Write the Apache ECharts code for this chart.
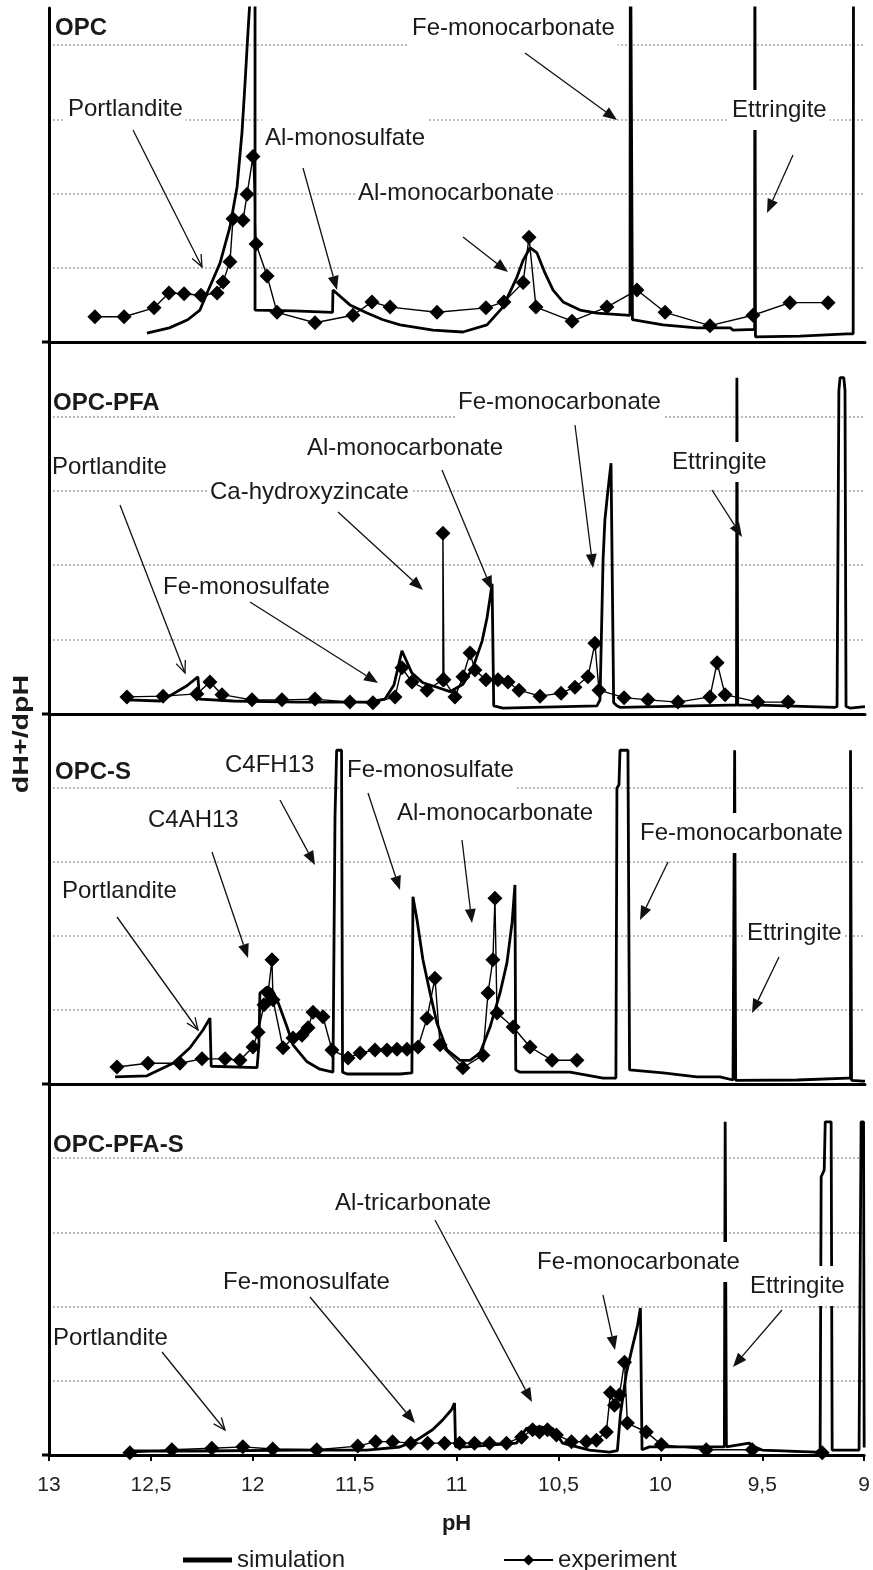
<!DOCTYPE html>
<html><head><meta charset="utf-8">
<script src="https://cdn.jsdelivr.net/npm/echarts@6/dist/echarts.min.js"></script>
<style>html,body{margin:0;padding:0;background:#fff}#c{width:873px;height:1570px}</style>
</head><body><div id="c"></div>
<script>
// ---------- DATA (pH, dH+/dpH) ----------
const panelNames = ['OPC', 'OPC-PFA', 'OPC-S', 'OPC-PFA-S'];
const yMax = [4.5, 5, 5, 5];

const simOPC = [[12.52,0.12],[12.41,0.19],[12.32,0.30],[12.26,0.43],[12.225,0.66],[12.162,1.06],[12.113,1.55],[12.078,2.09],[12.054,2.82],[12.039,3.49],[12.025,4.16],[12.015,4.6],[12.005,6],[11.99,6],[11.99,0.43],[11.80,0.42],[11.61,0.40],[11.608,0.70],[11.525,0.50],[11.441,0.39],[11.363,0.30],[11.279,0.23],[11.118,0.16],[10.971,0.135],[10.853,0.23],[10.775,0.47],[10.706,0.875],[10.676,1.10],[10.642,1.27],[10.608,1.20],[10.569,0.93],[10.529,0.70],[10.48,0.54],[10.397,0.43],[10.314,0.39],[10.152,0.36],[10.150,6],[10.142,6],[10.140,0.30],[9.99,0.23],[9.824,0.19],[9.66,0.19],[9.647,0.16],[9.541,0.17],[9.540,6],[9.538,6],[9.537,0.07],[9.319,0.08],[9.088,0.11],[9.058,0.11],[9.056,6],[9.0,6]];
const expOPC = [[12.775,0.34],[12.632,0.34],[12.485,0.46],[12.412,0.66],[12.338,0.65],[12.255,0.63],[12.176,0.66],[12.147,0.81],[12.113,1.08],[12.098,1.66],[12.049,1.64],[12.029,1.99],[12.0,2.5],[11.985,1.32],[11.931,0.89],[11.882,0.40],[11.696,0.26],[11.51,0.36],[11.417,0.54],[11.328,0.47],[11.098,0.40],[10.858,0.46],[10.77,0.54],[10.676,0.80],[10.647,1.41],[10.613,0.47],[10.436,0.28],[10.265,0.47],[10.118,0.70],[9.98,0.40],[9.76,0.22],[9.549,0.36],[9.368,0.53],[9.181,0.53]];

const simPFA = [[12.618,0.19],[12.456,0.175],[12.392,0.27],[12.324,0.38],[12.27,0.50],[12.262,0.20],[12.098,0.175],[11.77,0.16],[11.441,0.16],[11.353,0.20],[11.309,0.39],[11.27,0.85],[11.221,0.55],[11.167,0.42],[11.098,0.36],[11.034,0.30],[10.971,0.40],[10.922,0.62],[10.877,0.98],[10.853,1.29],[10.838,1.56],[10.828,1.75],[10.822,1.75],[10.820,0.11],[10.775,0.08],[10.314,0.11],[10.299,0.19],[10.284,2.07],[10.275,2.61],[10.26,3.01],[10.245,3.37],[10.238,3.37],[10.232,0.15],[10.216,0.11],[10.201,0.09],[9.662,0.12],[9.630,0.12],[9.628,4.52],[9.626,4.52],[9.624,0.12],[9.515,0.12],[9.147,0.09],[9.137,0.10],[9.128,4.35],[9.122,4.52],[9.104,4.52],[9.098,4.35],[9.093,0.10],[9.074,0.08],[9.0,0.1]];
const expPFA = [[12.618,0.23],[12.441,0.24],[12.275,0.27],[12.211,0.43],[12.152,0.26],[12.005,0.19],[11.858,0.19],[11.696,0.20],[11.525,0.16],[11.412,0.15],[11.304,0.23],[11.27,0.62],[11.221,0.43],[11.147,0.32],[11.069,0.46],[11.069,2.43],[11.064,0.46],[11.01,0.23],[10.971,0.50],[10.936,0.82],[10.912,0.59],[10.858,0.46],[10.799,0.46],[10.75,0.43],[10.696,0.32],[10.593,0.24],[10.49,0.28],[10.422,0.36],[10.358,0.50],[10.324,0.95],[10.304,0.32],[10.181,0.22],[10.064,0.19],[9.917,0.16],[9.76,0.23],[9.725,0.69],[9.686,0.26],[9.525,0.16],[9.377,0.16]];

const simS = [[12.676,0.095],[12.52,0.11],[12.392,0.28],[12.309,0.49],[12.245,0.73],[12.211,0.89],[12.205,0.24],[11.98,0.22],[11.971,0.53],[11.966,1.23],[11.931,1.31],[11.907,1.27],[11.882,1.14],[11.833,0.77],[11.804,0.53],[11.735,0.30],[11.672,0.20],[11.608,0.16],[11.598,3.61],[11.590,4.51],[11.566,4.51],[11.561,0.16],[11.539,0.135],[11.279,0.135],[11.221,0.15],[11.216,2.53],[11.196,2.22],[11.167,1.68],[11.132,1.23],[11.098,0.82],[11.049,0.46],[10.985,0.32],[10.936,0.32],[10.887,0.42],[10.838,0.77],[10.789,1.23],[10.755,1.64],[10.73,2.18],[10.716,2.69],[10.712,0.19],[10.691,0.16],[10.446,0.16],[10.284,0.08],[10.221,0.08],[10.216,4.0],[10.206,4.04],[10.201,4.51],[10.162,4.51],[10.154,0.19],[9.99,0.15],[9.824,0.095],[9.711,0.095],[9.647,0.054],[9.639,0.05],[9.639,4.51],[9.634,4.51],[9.634,0.05],[9.333,0.054],[9.083,0.08],[9.071,0.08],[9.071,4.51],[9.066,4.51],[9.066,0.05],[9.01,0.04],[9.0,0.04]];
const expS = [[12.667,0.23],[12.515,0.28],[12.358,0.28],[12.25,0.34],[12.137,0.34],[12.064,0.32],[12.0,0.5],[11.975,0.70],[11.946,1.07],[11.926,1.23],[11.907,1.68],[11.902,1.14],[11.853,0.49],[11.804,0.62],[11.76,0.66],[11.73,0.76],[11.706,0.97],[11.657,0.91],[11.613,0.46],[11.534,0.35],[11.475,0.42],[11.402,0.46],[11.343,0.46],[11.294,0.47],[11.245,0.47],[11.191,0.5],[11.147,0.89],[11.108,1.43],[11.083,0.53],[10.971,0.22],[10.873,0.39],[10.848,1.23],[10.824,1.68],[10.814,2.51],[10.804,0.96],[10.725,0.77],[10.642,0.5],[10.534,0.32],[10.412,0.32]];

const simPFAS = [[12.603,0.054],[12.26,0.054],[11.77,0.067],[11.441,0.067],[11.279,0.108],[11.196,0.20],[11.118,0.34],[11.069,0.47],[11.025,0.61],[11.01,0.70],[11.005,0.11],[10.951,0.11],[10.706,0.16],[10.657,0.36],[10.593,0.38],[10.529,0.36],[10.48,0.16],[10.348,0.067],[10.25,0.04],[10.211,0.06],[10.196,0.55],[10.167,1.10],[10.137,1.46],[10.113,1.73],[10.098,1.98],[10.093,1.98],[10.090,0.07],[10.054,0.11],[9.99,0.11],[9.686,0.11],[9.682,4.49],[9.679,4.49],[9.676,0.11],[9.564,0.16],[9.539,0.11],[9.50,0.067],[9.235,0.04],[9.216,0.067],[9.211,3.75],[9.196,3.84],[9.191,4.49],[9.162,4.49],[9.157,0.067],[9.123,0.067],[9.025,0.067],[9.015,4.49],[9.003,4.49],[9.0,0.1]];
const expPFAS = [[12.603,0.03],[12.397,0.07],[12.201,0.09],[12.049,0.11],[11.902,0.08],[11.686,0.07],[11.485,0.12],[11.397,0.18],[11.314,0.18],[11.225,0.16],[11.142,0.16],[11.059,0.16],[10.985,0.16],[10.912,0.16],[10.838,0.16],[10.755,0.16],[10.681,0.24],[10.627,0.34],[10.593,0.31],[10.554,0.34],[10.51,0.27],[10.436,0.18],[10.363,0.18],[10.314,0.2],[10.265,0.31],[10.245,0.84],[10.225,0.67],[10.201,0.81],[10.176,1.25],[10.162,0.43],[10.069,0.31],[9.995,0.14],[9.775,0.07],[9.549,0.07],[9.206,0.03]];

const simSeries = [simOPC, simPFA, simS, simPFAS];
const expSeries = [expOPC, expPFA, expS, expPFAS];

// ---------- ANNOTATIONS (pixel layout) ----------
// [text, left x, center y, bold]
const labels = [
  ['OPC',55,28,1],['Portlandite',68,109],['Al-monosulfate',265,138],['Al-monocarbonate',358,193],['Fe-monocarbonate',412,28],['Ettringite',732,110],
  ['OPC-PFA',53,403,1],['Portlandite',52,467],['Ca-hydroxyzincate',210,492],['Al-monocarbonate',307,448],['Fe-monosulfate',163,587],['Fe-monocarbonate',458,402],['Ettringite',672,462],
  ['OPC-S',55,772,1],['C4FH13',225,765],['C4AH13',148,820],['Portlandite',62,891],['Fe-monosulfate',347,770],['Al-monocarbonate',397,813],['Fe-monocarbonate',640,833],['Ettringite',747,933],
  ['OPC-PFA-S',53,1145,1],['Al-tricarbonate',335,1203],['Fe-monosulfate',223,1282],['Portlandite',53,1338],['Fe-monocarbonate',537,1262],['Ettringite',750,1286]
];
// [x1,y1,x2,y2,openHead]
const arrows = [
  [133,130,202,267,1],[303,168,337,290,0],[463,237,508,272,0],[525,53,617,120,0],[793,155,767,213,0],
  [120,505,185,673,1],[338,512,423,590,0],[442,470,492,590,0],[250,602,378,683,0],[575,425,593,568,0],[712,490,742,537,0],
  [280,800,315,865,0],[212,852,248,958,0],[117,917,198,1030,1],[368,793,400,890,0],[462,840,472,923,0],[668,862,640,920,0],[779,957,752,1013,0],
  [435,1220,532,1402,0],[310,1297,415,1423,0],[162,1352,225,1430,1],[603,1295,615,1350,0],[782,1310,733,1367,0]
];

const FONT = '"Liberation Sans", Arial, sans-serif';
const gridBoxes = [[8,334],[342,372],[714,370],[1084,371]];

const ctx = document.createElement('canvas').getContext('2d');
const graphics = [];
labels.forEach(([t,x,y,b]) => {
  const font = (b ? 'bold ' : '') + '24px ' + FONT;
  ctx.font = font;
  const w = ctx.measureText(t).width;
  const rx = Math.max(x - 3, 52);
  if (!b) graphics.push({type:'rect', z:100, shape:{x:rx, y:y-20, width:x+w+3-rx, height:40}, style:{fill:'#fff'}});
  graphics.push({type:'text', z:102, x:x, y:y, style:{text:t, font:font, fill:'#1a1a1a', align:'left', verticalAlign:'middle', textAlign:'left', textVerticalAlign:'middle'}});
});
arrows.forEach(([x1,y1,x2,y2,open]) => {
  const a = Math.atan2(y2-y1, x2-x1);
  const L = open ? 12 : 14, W = open ? 5 : 5.5;
  const bx = x2 - L*Math.cos(a), by = y2 - L*Math.sin(a);
  const px = -Math.sin(a)*W, py = Math.cos(a)*W;
  graphics.push({type:'line', z:101, shape:{x1:x1,y1:y1,x2:open?x2:bx,y2:open?y2:by}, style:{stroke:'#111', lineWidth:1.3}});
  if (open) graphics.push({type:'polyline', z:101, shape:{points:[[bx+px,by+py],[x2,y2],[bx-px,by-py]]}, style:{stroke:'#111', lineWidth:1.3, fill:null}});
  else graphics.push({type:'polygon', z:101, shape:{points:[[x2,y2],[bx+px,by+py],[bx-px,by-py]]}, style:{fill:'#111'}});
});
// small outward ticks on the y axis at panel boundaries
gridBoxes.forEach(([t,h]) => graphics.push({type:'line', z:50, shape:{x1:42,y1:t+h,x2:50,y2:t+h}, style:{stroke:'#000', lineWidth:3}}));
graphics.push({type:'text', z:102, x:22, y:734, rotation:Math.PI/2, scaleX:1.3,
  style:{text:'dH+/dpH', font:'bold 22px ' + FONT, fill:'#1a1a1a', align:'center', verticalAlign:'middle', textAlign:'center', textVerticalAlign:'middle'}});

const option = {
  animation: false,
  backgroundColor: '#fff',
  grid: gridBoxes.map(([t,h]) => ({left:49, right:8, top:t, height:h, containLabel:false})),
  xAxis: gridBoxes.map((g,i) => ({
    type:'value', gridIndex:i, min:9, max:13, interval:0.5, inverse:true,
    axisLine:{show:true, onZero:false, lineStyle:{color:'#000', width:3}},
    axisTick:{show:i===3, length:6, lineStyle:{color:'#000', width:2}},
    axisLabel:{show:i===3, margin:20, fontSize:21, color:'#222', fontFamily:FONT, formatter:v => String(v).replace('.', ',')},
    splitLine:{show:false},
    name: i===3 ? 'pH' : '', nameLocation:'middle', nameGap:58,
    nameTextStyle:{fontSize:22, fontWeight:'bold', color:'#1a1a1a', fontFamily:FONT}
  })),
  yAxis: gridBoxes.map((g,i) => ({
    type:'value', gridIndex:i, min:0, max:yMax[i], interval:1,
    axisLine:{show:true, onZero:false, lineStyle:{color:'#000', width:3}},
    axisTick:{show:false}, axisLabel:{show:false},
    splitLine:{show:true, showMinLine:false, showMaxLine:false, lineStyle:{color:'#bdbdbd', type:'dotted', width:2}}
  })),
  legend: {
    data:[{name:'simulation', icon:'path://M0,0 L10,0 L10,1 L0,1 Z'}, 'experiment'],
    left:178, top:1543, itemWidth:49, itemHeight:14, itemGap:158,
    textStyle:{fontSize:24, color:'#1a1a1a', fontFamily:FONT}
  },
  series: [],
  graphic: {elements: graphics}
};
for (let i = 0; i < 4; i++) {
  option.series.push({type:'line', name:'simulation', xAxisIndex:i, yAxisIndex:i, data:simSeries[i],
    symbol:'none', clip:true, z:3, lineStyle:{color:'#000', width:2.8}, itemStyle:{color:'#000'}});
  option.series.push({type:'line', name:'experiment', xAxisIndex:i, yAxisIndex:i, data:expSeries[i],
    symbol:'diamond', symbolSize:15, clip:true, z:4, lineStyle:{color:'#000', width:1.4}, itemStyle:{color:'#000'}});
}
const chart = echarts.init(document.getElementById('c'), null, {renderer:'canvas'});
chart.setOption(option);
</script></body></html>
